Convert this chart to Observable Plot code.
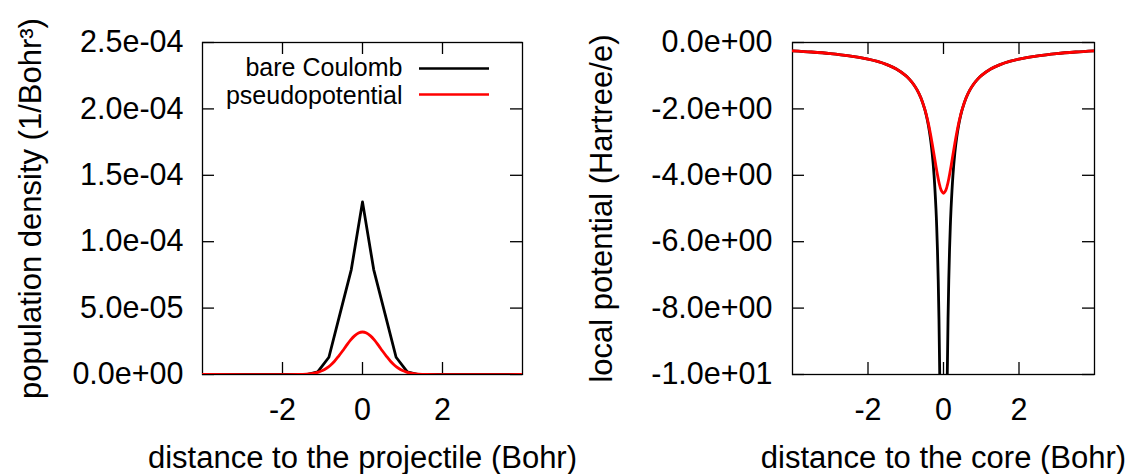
<!DOCTYPE html>
<html><head><meta charset="utf-8">
<script src="https://cdn.jsdelivr.net/npm/d3@7"></script>
<script src="https://cdn.jsdelivr.net/npm/@observablehq/plot@0.6"></script>
<style>
html,body{margin:0;padding:0;background:#fff;}
#wrap{position:relative;width:1133px;height:474px;overflow:hidden;background:#fff;}
#left{position:absolute;left:0;top:0;}
#right{position:absolute;left:560px;top:0;}
svg{overflow:visible;}
</style></head>
<body><div id="wrap"><div id="left"></div><div id="right"></div></div>
<script>
// ---------- data: left panel (population density) ----------
const seriesNames = ["bare Coulomb", "pseudopotential"];
const densBareX = [-4, -1.4, -1.12, -0.84, -0.56, -0.28, 0, 0.28, 0.56, 0.84, 1.12, 1.4, 4];
const densBareY = [0, 0, 2.0e-6, 1.3e-5, 4.6e-5, 7.9e-5, 1.3e-4, 7.9e-5, 4.6e-5, 1.3e-5, 2.0e-6, 0, 0];
const densPseudoX = [-4, -1.6, -1.4, -1.2, -1.1, -1.0, -0.9, -0.8, -0.7, -0.6, -0.5, -0.4, -0.3, -0.2, -0.1, 0,
  0.1, 0.2, 0.3, 0.4, 0.5, 0.6, 0.7, 0.8, 0.9, 1.0, 1.1, 1.2, 1.4, 1.6, 4];
const densPseudoY = [0, 0, 3e-7, 1.0e-6, 1.8e-6, 3.0e-6, 4.7e-6, 7.0e-6, 1.0e-5, 1.37e-5, 1.77e-5, 2.19e-5, 2.59e-5, 2.91e-5, 3.125e-5, 3.2e-5,
  3.125e-5, 2.91e-5, 2.59e-5, 2.19e-5, 1.77e-5, 1.37e-5, 1.0e-5, 7.0e-6, 4.7e-6, 3.0e-6, 1.8e-6, 1.0e-6, 3e-7, 0, 0];
const densTicks = [0, 5e-5, 1e-4, 1.5e-4, 2e-4, 2.5e-4];
const densTickLabels = ["0.0e+00", "5.0e-05", "1.0e-04", "1.5e-04", "2.0e-04", "2.5e-04"];

// ---------- data: right panel (local potential) ----------
const potX = [-4, -3.5, -3, -2.5, -2, -1.75, -1.5, -1.25, -1, -0.9, -0.8, -0.7, -0.6, -0.5, -0.45, -0.4, -0.35, -0.3, -0.25,
  -0.2, -0.18, -0.16, -0.14, -0.12, -0.1, -0.08, -0.05, 0, 0.05, 0.08, 0.1, 0.12, 0.14, 0.16, 0.18, 0.2,
  0.25, 0.3, 0.35, 0.4, 0.45, 0.5, 0.6, 0.7, 0.8, 0.9, 1, 1.25, 1.5, 1.75, 2, 2.5, 3, 3.5, 4];
const potBare = [-0.25, -0.286, -0.333, -0.4, -0.5, -0.571, -0.667, -0.8, -1, -1.111, -1.25, -1.429, -1.667, -2, -2.222, -2.5, -2.857, -3.333, -4,
  -5, -5.556, -6.25, -7.143, -8.333, -10, -12.5, -20, null, -20, -12.5, -10, -8.333, -7.143, -6.25, -5.556, -5,
  -4, -3.333, -2.857, -2.5, -2.222, -2, -1.667, -1.429, -1.25, -1.111, -1, -0.8, -0.667, -0.571, -0.5, -0.4, -0.333, -0.286, -0.25];
const potPseudo = [-0.25, -0.286, -0.333, -0.4, -0.5, -0.571, -0.667, -0.8, -1, -1.111, -1.25, -1.429, -1.666, -1.991, -2.199, -2.443, -2.725, -3.041, -3.381,
  -3.725, -3.859, -3.984, -4.103, -4.213, -4.305, -4.391, -4.476, -4.54, -4.476, -4.391, -4.305, -4.213, -4.103, -3.984, -3.859, -3.725,
  -3.381, -3.041, -2.725, -2.443, -2.199, -1.991, -1.666, -1.429, -1.25, -1.111, -1, -0.8, -0.667, -0.571, -0.5, -0.4, -0.333, -0.286, -0.25];
const potTicks = [0, -2, -4, -6, -8, -10];
const potTickLabels = ["0.0e+00", "-2.0e+00", "-4.0e+00", "-6.0e+00", "-8.0e+00", "-1.0e+01"];

const distTicks = [-2, 0, 2];
const distTickLabels = ["-2", "0", "2"];

// ---------- styling ----------
const FONT = '"Liberation Sans", Arial, Helvetica, sans-serif';
const TICK = 12;
const COLORS = ["#000000", "#ff0000"];

function rows(xs, ys) { return xs.map((x, i) => ({x, y: ys[i]})); }

function framing(pw, ph, yTicks, yLabels, padY) {
  return [
    Plot.frame({stroke: "#000", strokeWidth: 1.3}),
    Plot.ruleY(yTicks, {insetRight: pw - TICK, stroke: "#000", strokeWidth: 1.3}),
    Plot.ruleY(yTicks, {insetLeft: pw - TICK, stroke: "#000", strokeWidth: 1.3}),
    Plot.ruleX(distTicks, {insetTop: ph - TICK, stroke: "#000", strokeWidth: 1.3}),
    Plot.ruleX(distTicks, {insetBottom: ph - TICK, stroke: "#000", strokeWidth: 1.3}),
    Plot.axisY(yTicks, {tickSize: 0, tickPadding: padY, label: null,
      tickFormat: d => yLabels[yTicks.indexOf(d)]}),
    Plot.axisX(distTicks, {tickSize: 0, tickPadding: 24, label: null,
      tickFormat: d => distTickLabels[distTicks.indexOf(d)]})
  ];
}

const svgStyle = {fontFamily: FONT, fontSize: "30.5px", background: "transparent", color: "black", overflow: "visible"};

// ---------- left panel ----------
{
  const W = 560, H = 474, ml = 202, mr = 38, mt = 42, mb = 100;
  const pw = W - ml - mr, ph = H - mt - mb;
  const lineShape = {draw(ctx) { ctx.moveTo(-35, 0); ctx.lineTo(35, 0); }};
  const chart = Plot.plot({
    width: W, height: H, marginLeft: ml, marginRight: mr, marginTop: mt, marginBottom: mb,
    style: svgStyle,
    x: {domain: [-4, 4], label: null},
    y: {domain: [0, 2.5e-4], label: null},
    marks: [
      ...framing(pw, ph, densTicks, densTickLabels, 19),
      Plot.text(["population density (1/Bohr³)"], {frameAnchor: "left", rotate: -90, dx: 40.5 - ml,
        lineAnchor: "bottom", textAnchor: "middle", fontSize: 31, fill: "black"}),
      Plot.text(["distance to the projectile (Bohr)"], {frameAnchor: "bottom", dy: 93.5,
        lineAnchor: "bottom", textAnchor: "middle", fontSize: 31, fill: "black"}),
      Plot.line(rows(densBareX, densBareY), {x: "x", y: "y", stroke: COLORS[0], strokeWidth: 2.8, clip: true}),
      Plot.line(rows(densPseudoX, densPseudoY), {x: "x", y: "y", stroke: COLORS[1], strokeWidth: 2.8, curve: "catmull-rom", clip: true}),
      // legend
      Plot.text([seriesNames[0]], {frameAnchor: "top-left", dx: 402 - ml, dy: 75.5 - mt, textAnchor: "end", lineAnchor: "bottom", fontSize: 25, fill: "black"}),
      Plot.text([seriesNames[1]], {frameAnchor: "top-left", dx: 402 - ml, dy: 103.5 - mt, textAnchor: "end", lineAnchor: "bottom", fontSize: 25, fill: "black"}),
      Plot.dot([seriesNames[0]], {frameAnchor: "top-left", dx: 453.5 - ml, dy: 68 - mt, symbol: lineShape, fill: "none", stroke: COLORS[0], strokeWidth: 2.7}),
      Plot.dot([seriesNames[1]], {frameAnchor: "top-left", dx: 453.5 - ml, dy: 94 - mt, symbol: lineShape, fill: "none", stroke: COLORS[1], strokeWidth: 2.7})
    ]
  });
  document.getElementById("left").appendChild(chart);
}

// ---------- right panel ----------
{
  const W = 573, H = 474, ml = 232, mr = 39, mt = 42, mb = 100;
  const pw = W - ml - mr, ph = H - mt - mb;
  const chart = Plot.plot({
    width: W, height: H, marginLeft: ml, marginRight: mr, marginTop: mt, marginBottom: mb,
    style: svgStyle,
    x: {domain: [-4, 4], label: null},
    y: {domain: [-10, 0], label: null},
    marks: [
      ...framing(pw, ph, potTicks, potTickLabels, 20),
      Plot.text(["local potential (Hartree/e)"], {frameAnchor: "left", rotate: -90, dx: 51.5 - ml,
        lineAnchor: "bottom", textAnchor: "middle", fontSize: 31, fill: "black"}),
      Plot.text(["distance to the core (Bohr)"], {frameAnchor: "bottom", dy: 93.5,
        lineAnchor: "bottom", textAnchor: "middle", fontSize: 31, fill: "black"}),
      Plot.line(rows(potX, potBare), {x: "x", y: "y", stroke: COLORS[0], strokeWidth: 2.8, curve: "catmull-rom", clip: true}),
      Plot.line(rows(potX, potPseudo), {x: "x", y: "y", stroke: COLORS[1], strokeWidth: 2.8, curve: "catmull-rom", clip: true})
    ]
  });
  document.getElementById("right").appendChild(chart);
}
</script>
</body></html>
